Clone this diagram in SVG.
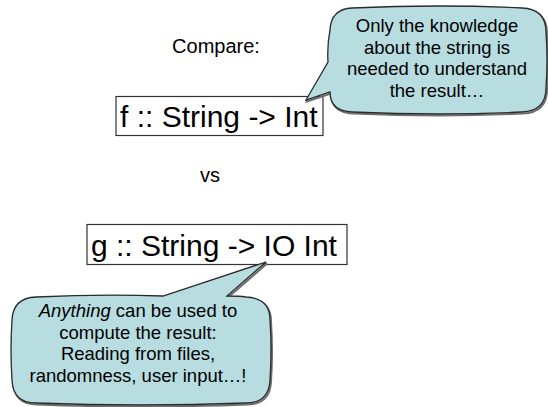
<svg xmlns="http://www.w3.org/2000/svg" width="548" height="407" viewBox="0 0 548 407">
<style>
.t{font-family:"Liberation Sans",Arial,sans-serif;fill:#000}
.code{font-size:30px}
.lbl{font-size:20px}
.bt{font-size:18.5px;text-anchor:middle}
.box{fill:#fff;stroke:#333;stroke-width:1.2}
.bub{fill:#b7dde0;stroke:#2b2b2b;stroke-width:1.3}
.shadow{fill:none;stroke:#6e6e6e;stroke-width:2}
</style>
<defs>
<path id="bubF" d="M352,8 Q440,4 522,8 Q546,9 546,32 Q548,60 546,88 Q546,111 522,112 Q440,116 352,112 Q330,111 330,92 L306,100 L328,62 Q327,45 330,30 Q331,9 352,8 Z"/>
<path id="bubG" d="M36,297 Q100,294 163,296 L266,262 L227,296 Q240,296 246,297 Q270,298 270,320 Q272,350 270,380 Q269,403 246,403 Q141,407 36,403 Q13,403 12,380 Q10,350 12,320 Q13,298 36,297 Z"/>
</defs>
<rect width="548" height="407" fill="#fff"/>
<g id="compare"><text class="t lbl" x="216" y="53" text-anchor="middle">Compare:</text></g>
<g id="f-box">
<rect class="box" x="116" y="96.5" width="207" height="39"/>
<text class="t code" x="120" y="127">f :: String -&gt; Int</text>
</g>
<g id="vs"><text class="t lbl" x="210" y="182" text-anchor="middle">vs</text></g>
<g id="g-box">
<rect class="box" x="87" y="224.5" width="260" height="40"/>
<text class="t code" x="91" y="256">g :: String -&gt; IO Int</text>
</g>
<g id="callout-f">
<use href="#bubF" class="shadow" transform="translate(1,1.5)"/>
<use href="#bubF" class="bub"/>
<text class="t bt" x="437" y="32">Only the knowledge</text>
<text class="t bt" x="437" y="53.5">about the string is</text>
<text class="t bt" x="437" y="75">needed to understand</text>
<text class="t bt" x="437" y="96.5">the result…</text>
</g>
<g id="callout-g">
<use href="#bubG" class="shadow" transform="translate(1,1.5)"/>
<use href="#bubG" class="bub"/>
<text class="t bt" x="138" y="317"><tspan font-style="italic">Anything</tspan> can be used to</text>
<text class="t bt" x="138" y="338.5">compute the result:</text>
<text class="t bt" x="138" y="360">Reading from files,</text>
<text class="t bt" x="138" y="381.5">randomness, user input…!</text>
</g>
</svg>
